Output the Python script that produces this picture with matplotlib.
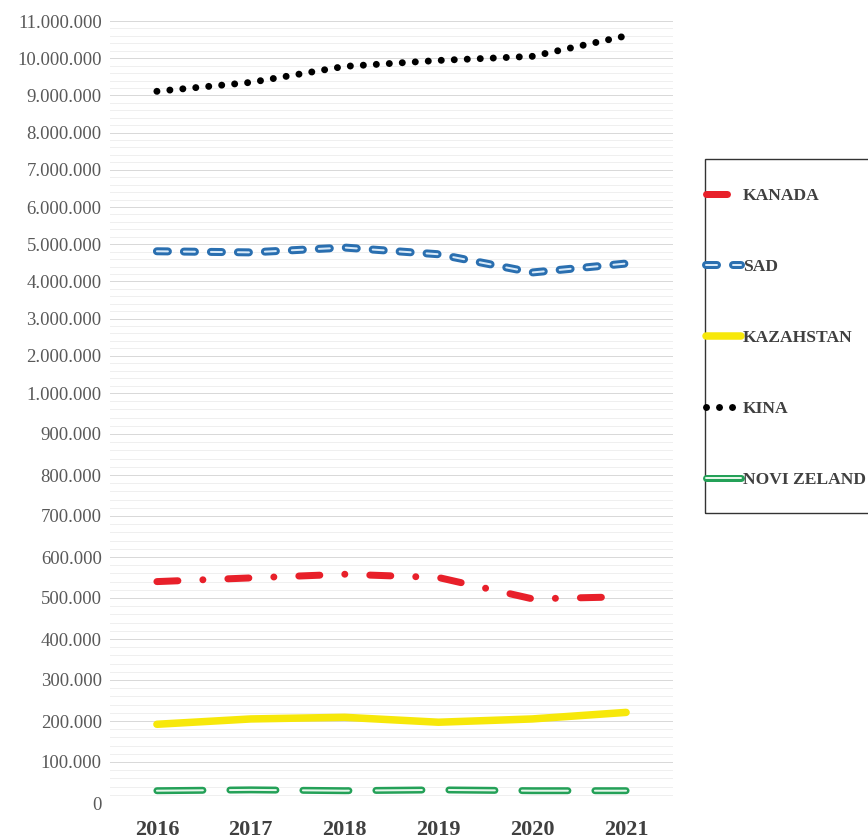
import numpy as np
import matplotlib
matplotlib.use('Agg')
import matplotlib.pyplot as plt
import matplotlib.patches as mpatches
from matplotlib.ticker import FixedLocator, FuncFormatter

# ── data ────────────────────────────────────────────────────
years = ['2016', '2017', '2018', '2019', '2020', '2021']

kanada = [540000, 549000, 558000, 550000, 498000, 503000]
sad = [4810000, 4780000, 4910000, 4730000, 4240000, 4480000]
kazahstan = [192000, 205000, 209000, 197000, 205000, 221000]
kina = [9110000, 9350000, 9780000, 9940000, 10050000, 10600000]
novi_zeland = [30000, 32000, 30000, 32000, 30000, 30000]

major_ticks = [0, 100000, 200000, 300000, 400000, 500000, 600000, 700000,
               800000, 900000, 1000000, 2000000, 3000000, 4000000, 5000000,
               6000000, 7000000, 8000000, 9000000, 10000000, 11000000]

# ── piecewise axis: 41 px per 100k up to 1M, 37.2 px per 1M above ──
def fwd(v):
    v = np.asarray(v, dtype=float)
    return np.where(v <= 1e6, v * 41 / 1e5, 410 + (v - 1e6) * 37.2 / 1e6)

def inv(u):
    u = np.asarray(u, dtype=float)
    return np.where(u <= 410, u * 1e5 / 41, 1e6 + (u - 410) * 1e6 / 37.2)

minor_ticks = []
for a, b in zip(major_ticks[:-1], major_ticks[1:]):
    minor_ticks += [a + (b - a) * k / 5 for k in range(1, 5)]

plt.rcParams['font.family'] = ['Liberation Serif', 'DejaVu Serif']
plt.rcParams['lines.scale_dashes'] = False

PX = 0.72  # points per pixel at dpi 100

fig = plt.figure(figsize=(8.68, 8.4), dpi=100, facecolor='white')
ax = fig.add_axes([110 / 868, 37 / 840, 563 / 868, 782 / 840])
ax.set_yscale('function', functions=(fwd, inv))
ax.set_ylim(0, 11000000)
ax.set_xlim(-0.5, 5.5)

x = np.arange(len(years))

# KANADA – red dash-dot
l_kan, = ax.plot(x, kanada, color='#e8202a', lw=7 * PX,
                 dashes=(21 * PX, 25 * PX, 0.01, 25 * PX),
                 dash_capstyle='round', solid_capstyle='round', zorder=3)

# SAD – blue double dashed
sad_dash = (11 * PX, 16 * PX)
l_sad_o, = ax.plot(x, sad, color='#2a6fb0', lw=8 * PX, dashes=sad_dash,
                   dash_capstyle='round', zorder=3)
l_sad_i, = ax.plot(x, sad, color='#d8eaf9', lw=2 * PX, dashes=sad_dash,
                   dash_capstyle='round', zorder=4)

# KAZAHSTAN – yellow solid
l_kaz, = ax.plot(x, kazahstan, color='#f7e80a', lw=7.5 * PX,
                 solid_capstyle='round', zorder=3)

# KINA – black round dots
l_kin, = ax.plot(x, kina, color='black', lw=7 * PX,
                 dashes=(0.01, 13 * PX), dash_capstyle='round', zorder=3)

# NOVI ZELAND – green double long dash
nz_dash = (46 * PX, 27 * PX)
l_nz_o, = ax.plot(x, novi_zeland, color='#24a158', lw=7 * PX, dashes=nz_dash,
                  dash_capstyle='round', zorder=3)
l_nz_i, = ax.plot(x, novi_zeland, color='#e6f7ea', lw=2 * PX, dashes=nz_dash,
                  dash_capstyle='round', zorder=4)

# ── axes styling ────────────────────────────────────────────
ax.yaxis.set_major_locator(FixedLocator(major_ticks))
ax.yaxis.set_minor_locator(FixedLocator(minor_ticks))
ax.yaxis.set_major_formatter(FuncFormatter(lambda v, p: f'{int(round(v)):,}'.replace(',', '.')))
ax.yaxis.set_minor_formatter(FuncFormatter(lambda v, p: ''))
ax.grid(which='major', axis='y', color='#d9d9d9', lw=1.0 * PX, zorder=0)
ax.grid(which='minor', axis='y', color='#efefef', lw=1.0 * PX, zorder=0)
ax.set_axisbelow(True)

ax.set_xticks(x)
ax.set_xticklabels(years)
ax.tick_params(axis='x', length=0, pad=12, labelsize=16, labelcolor='#404040')
for lbl in ax.get_xticklabels():
    lbl.set_fontweight('bold')
ax.tick_params(axis='y', which='both', length=0, pad=6, labelsize=13.5,
               labelcolor='#595959')
for s in ax.spines.values():
    s.set_visible(False)

# ── legend box (runs off the right edge like the original) ──
fig.patches.append(mpatches.Rectangle((705 / 868, 1 - 513 / 840), 0.5, 354 / 840,
                                      transform=fig.transFigure, fill=False,
                                      edgecolor='#333333', lw=1.0))
leg = fig.legend([l_kan, (l_sad_o, l_sad_i), l_kaz, l_kin, (l_nz_o, l_nz_i)],
                 ['KANADA', 'SAD', 'KAZAHSTAN', 'KINA', 'NOVI ZELAND'],
                 loc='upper left', bbox_to_anchor=(706 / 868, 1 - 188 / 840),
                 bbox_transform=fig.transFigure, borderaxespad=0, borderpad=0,
                 prop={'family': 'Liberation Serif', 'weight': 'bold', 'size': 12.6},
                 labelcolor='#404040', frameon=False, handlelength=2.0,
                 handletextpad=0.1, labelspacing=3.12)

fig.savefig('out.png', dpi=100, facecolor='white')
